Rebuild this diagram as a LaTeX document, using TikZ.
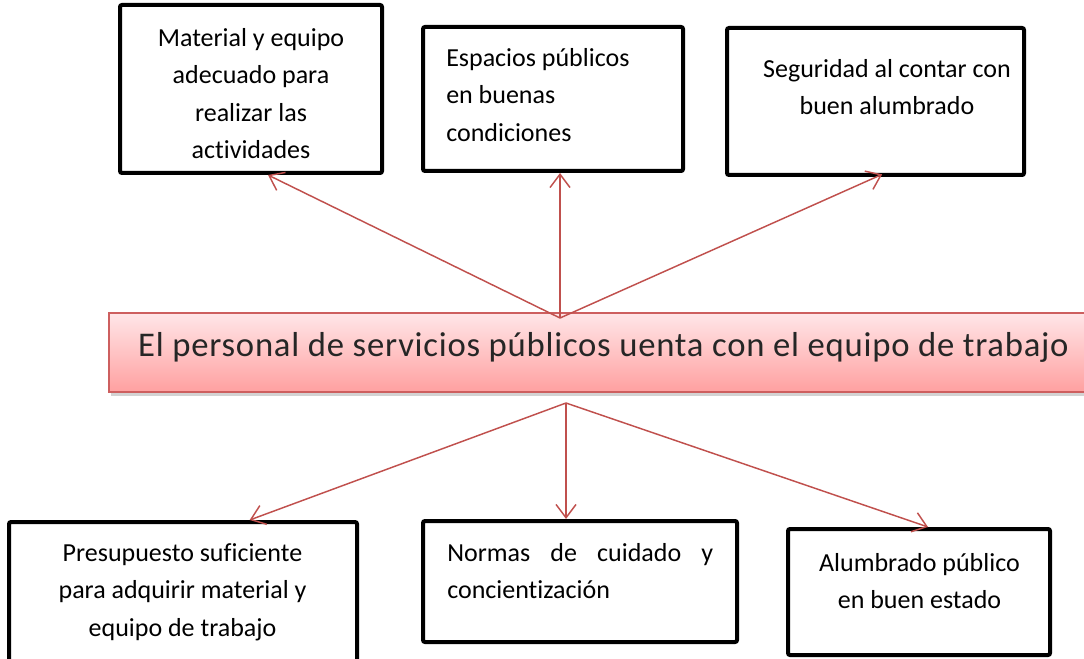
\documentclass[tikz,border=0pt]{standalone}
\usepackage{fontspec}
\setmainfont{Carlito}[Ligatures={NoCommon,NoRequired,NoContextual}]
\newfontfamily\goalfont{Carlito}[LetterSpace=2.2, Ligatures={NoCommon,NoRequired,NoContextual}]
\usetikzlibrary{arrows.meta,positioning,shadows}
\definecolor{arrowred}{RGB}{192,80,77}
\definecolor{boxedge}{RGB}{205,95,95}
\definecolor{pinktop}{RGB}{255,230,232}
\definecolor{pinkbot}{RGB}{255,160,160}
\tikzset{
  box/.style={draw=black, line width=3pt, rounded corners=1.5pt, inner sep=0pt},
  txt/.style={inner sep=0pt, font=\fontsize{19.5}{28}\selectfont},
  link/.style={draw=arrowred, line width=1.1pt, ->},
}

\begin{document}
\begin{tikzpicture}[x=0.75pt, y=-0.75pt, >={Straight Barb[length=10pt,width=15pt]}]
		\useasboundingbox (0,0) rectangle (1084,659);
		% central goal
		\node[draw=boxedge, line width=1.2pt, top color=pinktop, bottom color=pinkbot,
		      drop shadow={shadow xshift=1.5pt, shadow yshift=-3pt, opacity=0.35},
		      minimum width=743.25pt, minimum height=59.25pt, inner sep=0pt] (goal) at (604.5,352.5) {};
		\node[inner sep=0pt, text=black!85, font=\goalfont\fontsize{26}{30}\selectfont] (goaltxt) at (603.5,347)
		      {El personal de servicios públicos uenta con el equipo de trabajo};
		\coordinate (ctop) at (560,318);
		\coordinate (cbot) at (566,403);
		% upper boxes
		\node[box, minimum width=196.5pt, minimum height=126pt] (mat) at (251,89) {};
		\node[txt, align=center] (mattxt) at (251,93.5)
		      {Material y equipo\\adecuado para\\realizar las\\actividades};
		\node[box, minimum width=195pt, minimum height=108pt] (esp) at (553,99) {};
		\node[txt, align=left, anchor=west] (esptxt) at (446,95)
		      {Espacios públicos\\en buenas\\condiciones};
		\node[box, minimum width=222.75pt, minimum height=110.25pt] (seg) at (875.5,101.5) {};
		\node[txt, align=center] (segtxt) at (887,87)
		      {Seguridad al contar con\\buen alumbrado};
		% lower boxes
		\node[box, minimum width=261pt, minimum height=111pt] (pre) at (183,596) {};
		\node[txt, align=center] (pretxt) at (182.5,592)
		      {Presupuesto suficiente\\para adquirir material y\\equipo de trabajo};
		\node[box, minimum width=235.5pt, minimum height=90.75pt] (nor) at (580,581.5) {};
		\node[txt, align=justify, text width=199.5pt, anchor=west] (nortxt) at (447,571)
		      {Normas de cuidado y concientización};
		\node[box, minimum width=196.5pt, minimum height=94.5pt] (alu) at (919,592) {};
		\node[txt, align=center] (alutxt) at (919.5,581)
		      {Alumbrado público\\en buen estado};
		% connectors
		\draw[link] (ctop) -- ([xshift=12.75pt]mat.south);
		\draw[link] (ctop) -- ([xshift=5.25pt]esp.south);
		\draw[link] (ctop) -- ([xshift=5pt, yshift=2pt]seg.south);
		\draw[link] (cbot) -- ([xshift=50pt]pre.north);
		\draw[link] (cbot) -- ([xshift=-10.5pt]nor.north);
		\draw[link] (cbot) -- ([xshift=6.75pt]alu.north);
	\end{tikzpicture}
\end{document}
